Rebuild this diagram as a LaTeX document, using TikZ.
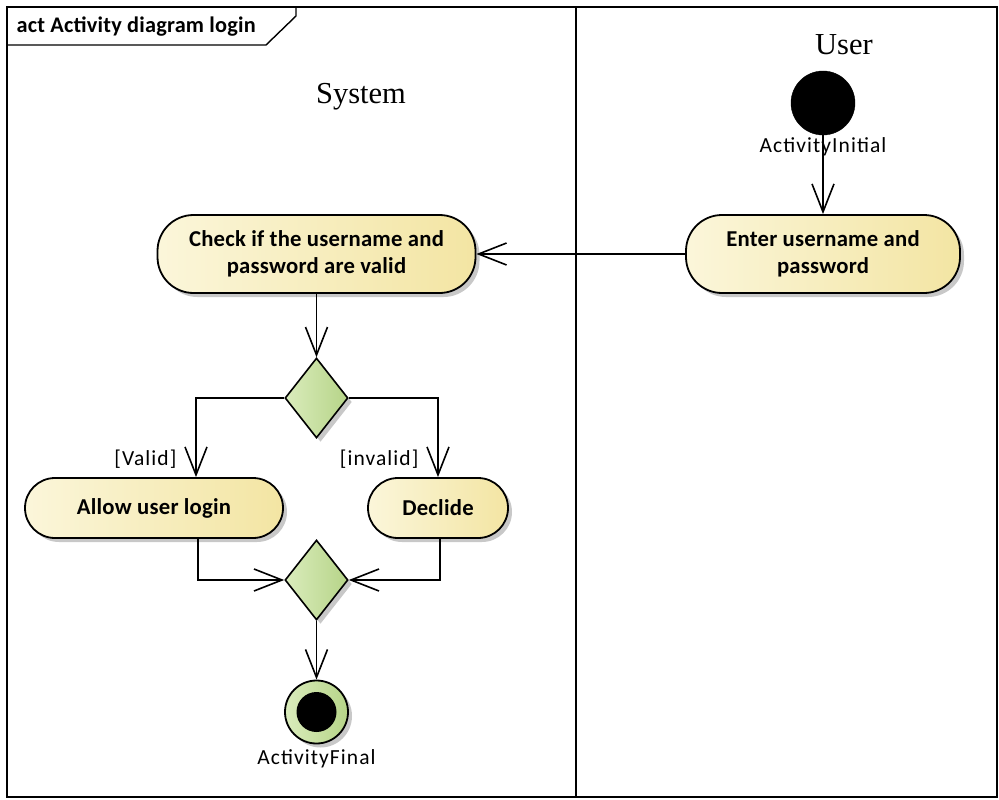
\documentclass[tikz,border=0pt]{standalone}
\usepackage{fontspec}
\setmainfont{Liberation Serif}
\newfontfamily\uisans[LetterSpace=5]{Carlito}
\newfontfamily\uibold[LetterSpace=1]{Carlito}
\usetikzlibrary{arrows.meta,shapes.geometric,shadows,calc}

\definecolor{actLight}{RGB}{251,246,218}
\definecolor{actDark}{RGB}{243,229,163}
\definecolor{decLight}{RGB}{218,236,188}
\definecolor{decDark}{RGB}{182,212,136}
\definecolor{shade}{RGB}{200,200,200}

\tikzset{
  umlshadow/.style={drop shadow={shadow xshift=4pt,shadow yshift=-4pt,fill=shade,opacity=1}},
  action/.style={draw=black,line width=1.8pt,rounded corners=#1,
    left color=actLight,right color=actDark,umlshadow,
    minimum height=78pt,inner sep=0pt,align=center,
    font=\uibold\fontsize{22.7}{27}\selectfont\bfseries},
  decision/.style={diamond,draw=black,line width=1.6pt,
    left color=decLight,right color=decDark,umlshadow,
    minimum width=63pt,minimum height=80pt,inner sep=0pt},
  flow/.style={draw=black,line width=1.6pt,
    -{Straight Barb[length=28pt,width=22pt,line width=1.6pt]}},
  guard/.style={font=\uisans\fontsize{21.5}{25}\selectfont},
  lane/.style={font=\fontsize{30.5}{34}\selectfont},
  frameline/.style={draw=black,line width=2.2pt},
}

\begin{document}
\begin{tikzpicture}[x=1pt,y=-1pt]
\useasboundingbox (0,0) rectangle (999,800);

% diagram frame and swimlane divider
\draw[frameline] (7,7) rectangle (997,797);
\draw[frameline] (576,7) -- (576,797);
\draw[draw=black,line width=1.4pt] (7,45) -- (266,45) -- (296,16) -- (296,7);
\node[anchor=west,font=\uibold\fontsize{22.3}{26}\selectfont\bfseries] (title) at (13,27) {act Activity diagram login};

% lane headings
\node[lane] (sysname) at (361,97) {System};
\node[lane] (username) at (844,45) {User};

% user lane
\node[circle,fill=black,draw=black,minimum size=64pt,inner sep=0pt] (init) at (823,103) {};
\node[guard] (initlbl) at (823,147) {ActivityInitial};
\node[action=36pt,minimum width=274pt] (enter) at (823,254) {Enter username and\\password};

% system lane
\node[action=36pt,minimum width=318pt] (check) at (316.5,254) {Check if the username and\\password are valid};
\node[decision] (split) at (316.5,398) {};
\node[action=30pt,minimum width=258pt,minimum height=60pt] (allow) at (154,508) {Allow user login};
\node[action=30pt,minimum width=140pt,minimum height=60pt] (decline) at (438,508) {Declide};
\node[decision] (merge) at (316.5,580) {};
\node[circle,draw=black,line width=1.8pt,left color=decLight,right color=decDark,
      umlshadow,minimum size=63pt,inner sep=0pt] (final) at (316.5,712) {};
\node[circle,fill=black,minimum size=40pt,inner sep=0pt] (finaldot) at (final.center) {};
\node[guard] (finallbl) at (316.5,759) {ActivityFinal};

% guards
\node[guard,anchor=east] (gvalid) at (180,459) {[Valid]};
\node[guard,anchor=east] (ginvalid) at (422,459) {[invalid]};

% control flows
\draw[flow] (init.south) -- (enter.north -| init.south);
\draw[flow] (enter.west) -- (check.east);
\draw[flow] (check.south) -- (split.north);
\draw[flow] (split.west) -| ([xshift=42pt]allow.north);
\draw[flow] (split.east) -| (decline.north);
\draw[flow] ([xshift=44pt]allow.south) |- (merge.west);
\draw[flow] ([xshift=2pt]decline.south) |- (merge.east);
\draw[flow] (merge.south) -- (final.north);
\end{tikzpicture}
\end{document}
